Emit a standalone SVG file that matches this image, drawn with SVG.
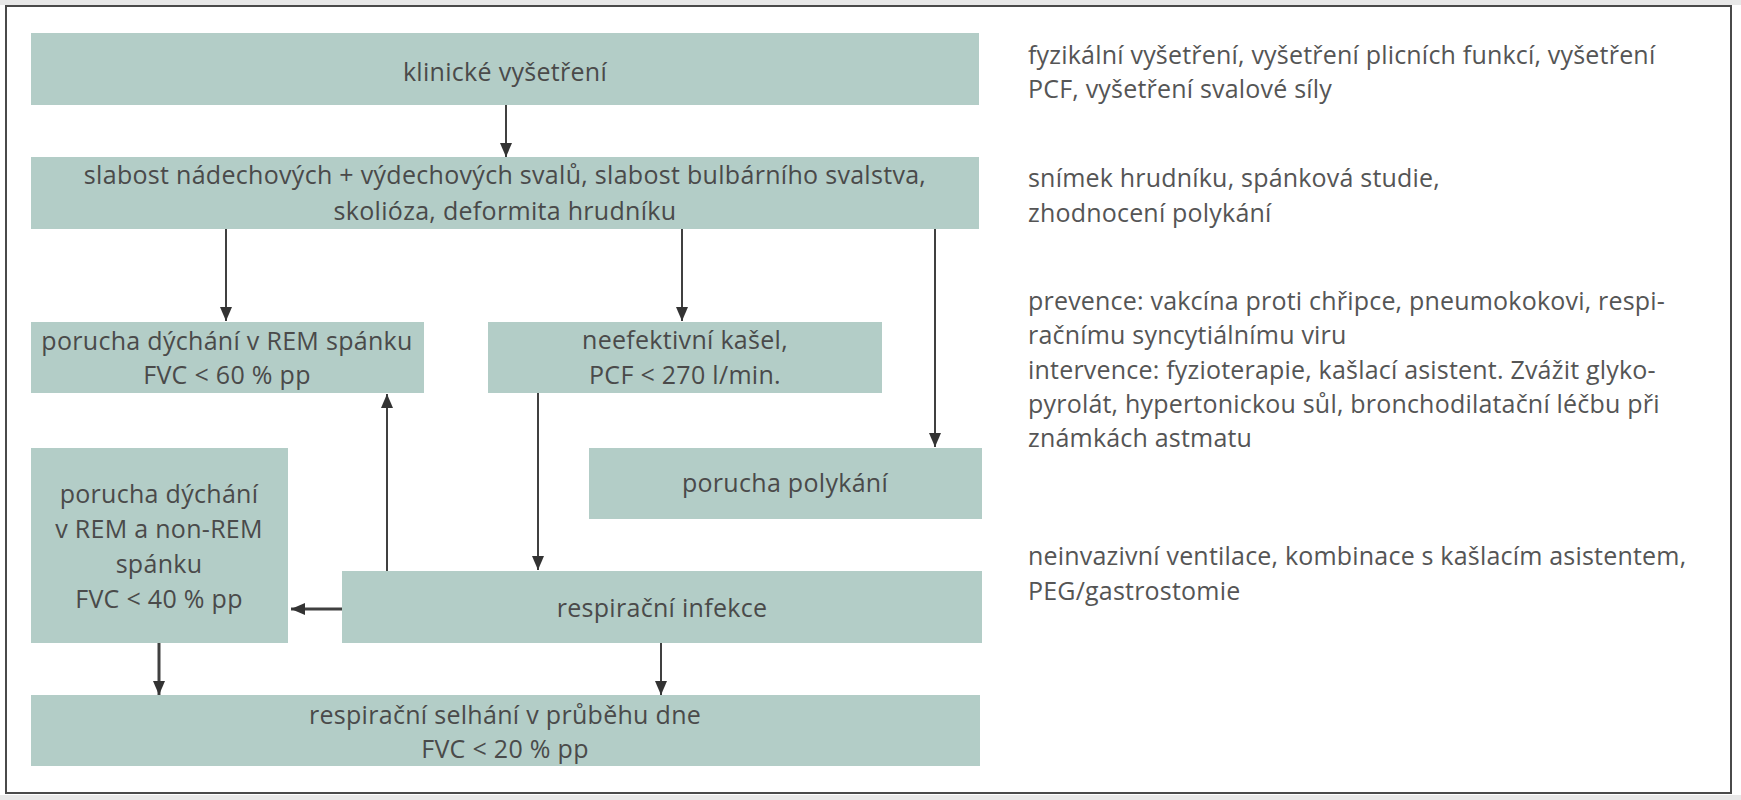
<svg xmlns="http://www.w3.org/2000/svg" width="1741" height="800" viewBox="0 0 1741 800">
<style>
.box{fill:#b3cdc7;}
.t{font-family:"Open Sans","Noto Sans","DejaVu Sans",sans-serif;font-size:25px;letter-spacing:0.3px;fill:#4a4a4a;text-anchor:middle;}
.r{font-family:"Open Sans","Noto Sans","DejaVu Sans",sans-serif;font-size:25px;letter-spacing:0.2px;fill:#555555;}
.c{stroke:#404040;stroke-width:2;fill:none;marker-end:url(#ah);}
.c3{stroke:#404040;stroke-width:3;fill:none;marker-end:url(#ah);}
</style>
<defs>
<marker id="ah" markerUnits="userSpaceOnUse" markerWidth="14" markerHeight="12" viewBox="0 0 14 12" refX="14" refY="6" orient="auto">
<path d="M0,0 L14,6 L0,12 z" fill="#333333"/>
</marker>
</defs>
<rect x="0" y="0" width="1741" height="800" fill="#ffffff"/>
<rect x="0" y="0" width="1741" height="5" fill="#e8e8e8"/>
<rect x="0" y="795" width="1741" height="5" fill="#e8e8e8"/>
<rect id="frame" x="6" y="6" width="1725" height="787" fill="none" stroke="#4a4a4a" stroke-width="2"/>

<g id="n1"><rect class="box" x="31" y="33" width="948" height="72"/>
<text class="t" x="505" y="81">klinické vyšetření</text></g>

<g id="n2"><rect class="box" x="31" y="157" width="948" height="72"/>
<text class="t" x="505" y="184">slabost nádechových + výdechových svalů, slabost bulbárního svalstva,</text>
<text class="t" x="505" y="220">skolióza, deformita hrudníku</text></g>

<g id="n3"><rect class="box" x="31" y="322" width="393" height="71"/>
<text class="t" x="227" y="350">porucha dýchání v REM spánku</text>
<text class="t" x="227" y="384">FVC &lt; 60 % pp</text></g>

<g id="n4"><rect class="box" x="488" y="322" width="394" height="71"/>
<text class="t" x="685" y="349">neefektivní kašel,</text>
<text class="t" x="685" y="384">PCF &lt; 270 l/min.</text></g>

<g id="n5"><rect class="box" x="589" y="448" width="393" height="71"/>
<text class="t" x="785" y="492">porucha polykání</text></g>

<g id="n6"><rect class="box" x="31" y="448" width="257" height="195"/>
<text class="t" x="159" y="503">porucha dýchání</text>
<text class="t" x="159" y="538">v REM a non-REM</text>
<text class="t" x="159" y="573">spánku</text>
<text class="t" x="159" y="608">FVC &lt; 40 % pp</text></g>

<g id="n7"><rect class="box" x="342" y="571" width="640" height="72"/>
<text class="t" x="662" y="617">respirační infekce</text></g>

<g id="n8"><rect class="box" x="31" y="695" width="949" height="71"/>
<text class="t" x="505" y="724">respirační selhání v průběhu dne</text>
<text class="t" x="505" y="758">FVC &lt; 20 % pp</text></g>

<g id="notes">
<text class="r" x="1028" y="64">fyzikální vyšetření, vyšetření plicních funkcí, vyšetření</text>
<text class="r" x="1028" y="98">PCF, vyšetření svalové síly</text>
<text class="r" x="1028" y="187">snímek hrudníku, spánková studie,</text>
<text class="r" x="1028" y="222">zhodnocení polykání</text>
<text class="r" x="1028" y="310">prevence: vakcína proti chřipce, pneumokokovi, respi-</text>
<text class="r" x="1028" y="344">račnímu syncytiálnímu viru</text>
<text class="r" x="1028" y="379">intervence: fyzioterapie, kašlací asistent. Zvážit glyko-</text>
<text class="r" x="1028" y="413">pyrolát, hypertonickou sůl, bronchodilatační léčbu při</text>
<text class="r" x="1028" y="447">známkách astmatu</text>
<text class="r" x="1028" y="565">neinvazivní ventilace, kombinace s kašlacím asistentem,</text>
<text class="r" x="1028" y="600">PEG/gastrostomie</text>
</g>

<g id="connectors">
<line class="c" x1="506" y1="105" x2="506" y2="157"/>
<line class="c" x1="226" y1="229" x2="226" y2="321"/>
<line class="c" x1="682" y1="229" x2="682" y2="321"/>
<line class="c" x1="935" y1="229" x2="935" y2="447"/>
<line class="c" x1="538" y1="393" x2="538" y2="570"/>
<line class="c" x1="387" y1="571" x2="387" y2="394"/>
<line class="c3" x1="342" y1="609" x2="291" y2="609"/>
<line class="c3" x1="159" y1="643" x2="159" y2="695"/>
<line class="c" x1="661" y1="643" x2="661" y2="695"/>
</g>
</svg>
